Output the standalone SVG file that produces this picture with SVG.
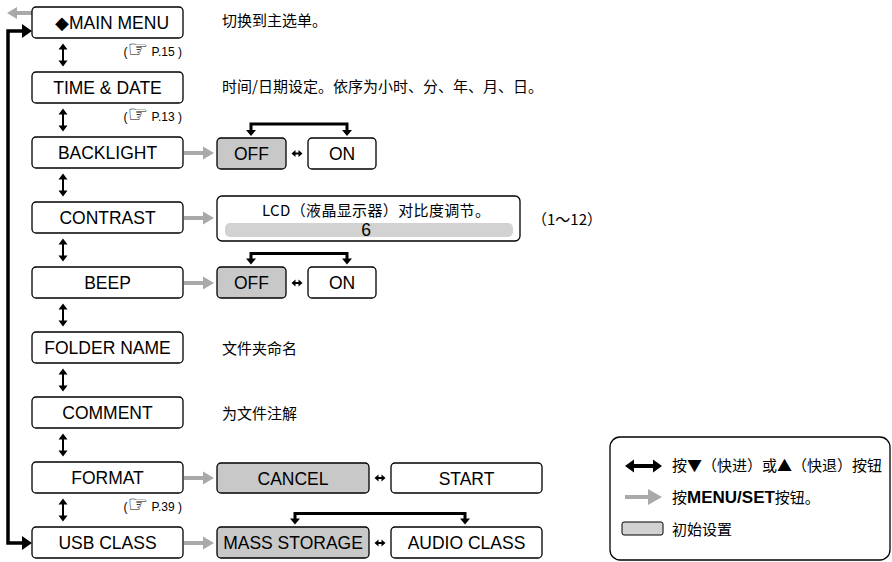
<svg xmlns="http://www.w3.org/2000/svg" width="892" height="562" viewBox="0 0 892 562">
<style>
.box{fill:#fff;stroke:#000;stroke-width:1.3}
.sel{fill:#c8c8c8;stroke:#000;stroke-width:1.3}
.lbl{font-family:"Liberation Sans",Arial,sans-serif;font-size:17.5px;text-anchor:middle;fill:#000}
.ref{font-family:"Liberation Sans","DejaVu Sans",sans-serif;font-size:12px;text-anchor:end;fill:#000}
.pt{font-family:"DejaVu Sans",sans-serif;font-size:23px;font-weight:bold}
.cn{font-family:"Noto Sans CJK SC",sans-serif;font-size:15px;fill:#000}
.br{fill:none;stroke:#000;stroke-width:3}
.gray{fill:#a9a9a9}
</style>
<defs>
<path id="varr" d="M0,-11.5 L-4.5,-5.5 H-1 V5.5 H-4.5 L0,11.5 L4.5,5.5 H1 V-5.5 H4.5 z" fill="#000"/>
<path id="harr" d="M-5.5,0 L-1.5,-3.5 V-1 H1.5 V-3.5 L5.5,0 L1.5,3.5 V1 H-1.5 V3.5 z" fill="#000"/>
<path id="garr" d="M0,-2 H19 V-6.5 L30,0 L19,6.5 V2 H0 z" class="gray"/>
<path id="dah" d="M-5,0 H5 L0,6 z" fill="#000"/>
</defs>

<g id="connectors">
  <path d="M32,11 H17 V7 L7,13 L17,19 V15 H32 z" class="gray"/>
  <path d="M23,31 H8 V543 H23" fill="none" stroke="#000" stroke-width="3.5"/>
  <path d="M22,24 L32,31 L22,38 z" fill="#000"/>
  <path d="M22,536 L32,543 L22,550 z" fill="#000"/>
  <use href="#varr" x="63" y="55"/>
  <use href="#varr" x="63" y="120"/>
  <use href="#varr" x="63" y="185"/>
  <use href="#varr" x="63" y="250"/>
  <use href="#varr" x="63" y="315"/>
  <use href="#varr" x="63" y="380"/>
  <use href="#varr" x="63" y="445"/>
  <use href="#varr" x="63" y="510"/>
  <use href="#garr" x="184" y="153"/>
  <use href="#garr" x="184" y="218"/>
  <use href="#garr" x="184" y="283"/>
  <use href="#garr" x="184" y="478"/>
  <use href="#garr" x="184" y="543"/>
  <use href="#harr" x="297" y="153.5"/>
  <use href="#harr" x="297" y="283"/>
  <use href="#harr" x="380" y="478"/>
  <use href="#harr" x="380" y="543"/>
  <path class="br" d="M251,131 V124 H347 V131"/>
  <use href="#dah" x="251" y="130"/>
  <use href="#dah" x="347" y="130"/>
  <path class="br" d="M251,259 V253.5 H347 V259"/>
  <use href="#dah" x="251" y="258.5"/>
  <use href="#dah" x="347" y="258.5"/>
  <path class="br" d="M295,519 V513.5 H465 V519"/>
  <use href="#dah" x="295" y="518.5"/>
  <use href="#dah" x="465" y="518.5"/>
</g>

<g id="main-menu">
  <rect class="box" x="32" y="7" width="151" height="31" rx="4"/>
  <text class="lbl" x="112" y="29">◆MAIN MENU</text>
  <text class="ref" x="182" y="56">(<tspan class="pt" dy="1">☞</tspan><tspan dy="-1"> P.15 )</tspan></text>
</g>
<text class="cn" x="222" y="26" font-size="17">切换到主选单。</text>

<g id="time-date">
  <rect class="box" x="32" y="72" width="151" height="31" rx="4"/>
  <text class="lbl" x="107.5" y="94">TIME &amp; DATE</text>
  <text class="ref" x="182" y="121">(<tspan class="pt" dy="1">☞</tspan><tspan dy="-1"> P.13 )</tspan></text>
</g>
<text class="cn" x="222" y="92" font-size="17">时间/日期设定。依序为小时、分、年、月、日。</text>

<g id="backlight">
  <rect class="box" x="32" y="137" width="151" height="31" rx="4"/>
  <text class="lbl" x="107.5" y="159">BACKLIGHT</text>
</g>
<g id="backlight-off">
  <rect class="sel" x="217" y="138" width="69" height="31" rx="4"/>
  <text class="lbl" x="251.5" y="160">OFF</text>
</g>
<g id="backlight-on">
  <rect class="box" x="308" y="138" width="68" height="31" rx="4"/>
  <text class="lbl" x="342" y="160">ON</text>
</g>

<g id="contrast">
  <rect class="box" x="32" y="202" width="151" height="31" rx="4"/>
  <text class="lbl" x="107.5" y="224">CONTRAST</text>
</g>
<g id="contrast-level">
  <rect class="box" x="217" y="196" width="303" height="45" rx="5"/>
  <rect x="225" y="223" width="288" height="14" rx="5" fill="#d2d2d2"/>
  <text class="cn" x="376" y="216" text-anchor="middle" textLength="228" lengthAdjust="spacing">LCD（液晶显示器）对比度调节。</text>
  <text class="lbl" x="366" y="235.5" font-size="15">6</text>
</g>
<text class="cn" x="532" y="225" font-size="16">（1～12）</text>

<g id="beep">
  <rect class="box" x="32" y="267" width="151" height="31" rx="4"/>
  <text class="lbl" x="107.5" y="289">BEEP</text>
</g>
<g id="beep-off">
  <rect class="sel" x="217" y="267" width="69" height="31" rx="4"/>
  <text class="lbl" x="251.5" y="289">OFF</text>
</g>
<g id="beep-on">
  <rect class="box" x="308" y="267" width="68" height="31" rx="4"/>
  <text class="lbl" x="342" y="289">ON</text>
</g>

<g id="folder-name">
  <rect class="box" x="32" y="332" width="151" height="31" rx="4"/>
  <text class="lbl" x="107.5" y="354">FOLDER NAME</text>
</g>
<text class="cn" x="222" y="354" font-size="16">文件夹命名</text>

<g id="comment">
  <rect class="box" x="32" y="397" width="151" height="31" rx="4"/>
  <text class="lbl" x="107.5" y="419">COMMENT</text>
</g>
<text class="cn" x="222" y="419" font-size="16">为文件注解</text>

<g id="format">
  <rect class="box" x="32" y="462" width="151" height="31" rx="4"/>
  <text class="lbl" x="107.5" y="484">FORMAT</text>
  <text class="ref" x="182" y="511">(<tspan class="pt" dy="1">☞</tspan><tspan dy="-1"> P.39 )</tspan></text>
</g>
<g id="format-cancel">
  <rect class="sel" x="217" y="463" width="152" height="30" rx="4"/>
  <text class="lbl" x="293" y="484.5">CANCEL</text>
</g>
<g id="format-start">
  <rect class="box" x="391" y="463" width="151" height="30" rx="4"/>
  <text class="lbl" x="466.5" y="484.5">START</text>
</g>

<g id="usb-class">
  <rect class="box" x="32" y="527" width="151" height="31" rx="4"/>
  <text class="lbl" x="107.5" y="549">USB CLASS</text>
</g>
<g id="usb-mass-storage">
  <rect class="sel" x="217" y="527" width="152" height="31" rx="4"/>
  <text class="lbl" x="293" y="549" font-size="17">MASS STORAGE</text>
</g>
<g id="usb-audio-class">
  <rect class="box" x="391" y="527" width="151" height="31" rx="4"/>
  <text class="lbl" x="466.5" y="549">AUDIO CLASS</text>
</g>

<g id="legend">
  <rect x="610" y="437" width="280" height="123" rx="10" fill="#fff" stroke="#000" stroke-width="1.3"/>
  <path d="M625,466 L634,459.5 V464 H653 V459.5 L662,466 L653,472.5 V468 H634 V472.5 z" fill="#000"/>
  <text class="cn" x="672" y="471">按▼（快进）或▲（快退）按钮</text>
  <path d="M625,495 H648 V489 L662,497 L648,505 V499 H625 z" class="gray"/>
  <text class="cn" x="672" y="503" font-size="16">按<tspan font-family="Liberation Sans,Arial,sans-serif" font-weight="bold" font-size="17">MENU/SET</tspan>按钮。</text>
  <rect x="622" y="522" width="41" height="13" rx="2" fill="#d2d2d2" stroke="#000" stroke-width="1"/>
  <text class="cn" x="672" y="535" font-size="16">初始设置</text>
</g>
</svg>
